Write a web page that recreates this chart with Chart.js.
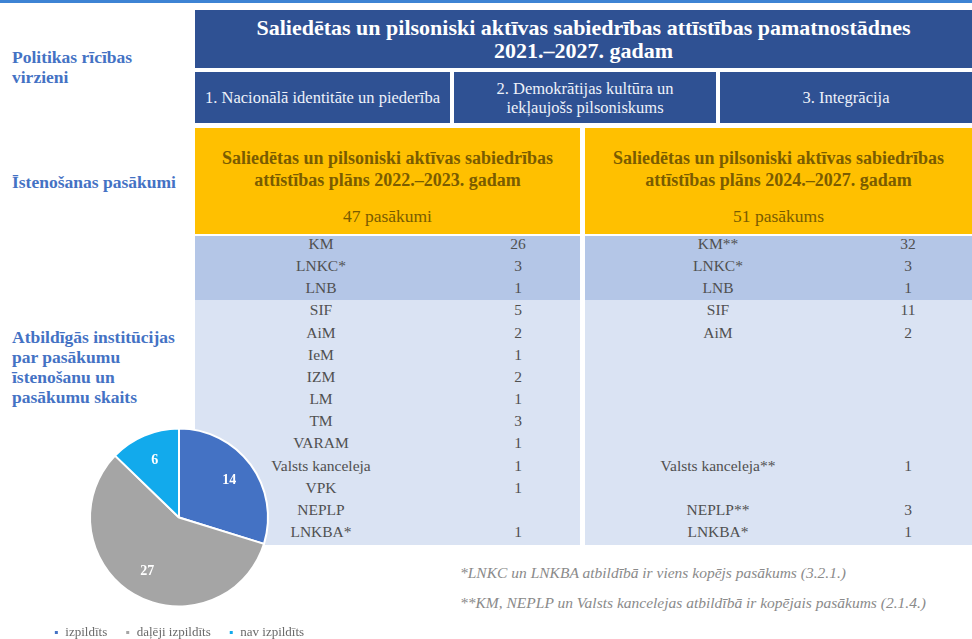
<!DOCTYPE html>
<html>
<head>
<meta charset="utf-8">
<script src="https://cdn.jsdelivr.net/npm/chart.js@4.4.1/dist/chart.umd.min.js"></script>
<style>
  html,body{margin:0;padding:0;background:#fff;}
  body{width:972px;height:639px;position:relative;overflow:hidden;font-family:'Liberation Serif';}
  .abs{position:absolute;}
  .topline{left:0;top:0;width:972px;height:3px;background:#3d83d4;}
  .hdr{background:#2f5193;color:#fff;display:flex;align-items:center;justify-content:center;text-align:center;}
  .h1{left:195px;top:10px;width:777px;height:58px;font-weight:bold;font-size:22px;line-height:23px;}
  .h2{top:72px;height:51px;font-size:16.5px;line-height:19px;color:#eef2fa;}
  .yel{background:#ffc000;color:#7a5c00;text-align:center;}
  .yel .t{font-weight:bold;font-size:18px;line-height:22px;margin-top:19px;}
  .yel .n{font-size:17.5px;line-height:20px;margin-top:15px;}
  .side{color:#4472c4;font-weight:bold;font-size:17.5px;line-height:20px;left:12px;white-space:nowrap;}
  .tbl{top:236px;height:309px;background:#dae3f3;}
  .band{position:absolute;left:0;top:0;width:100%;height:64px;background:#b4c6e7;}
  .row{position:absolute;left:0;width:100%;height:22px;font-size:15.5px;color:#505050;line-height:22px;}
  .row span{position:absolute;top:0;text-align:center;white-space:nowrap;}
  .foot{left:460px;font-style:italic;font-size:15.5px;color:#8a8a8a;line-height:20px;white-space:nowrap;}
  #pieBox{left:0;top:427px;width:358px;height:222px;z-index:5;}
</style>
</head>
<body>
<div class="abs topline"></div>

<div class="abs side" style="top:47px;">Politikas rīcības<br>virzieni</div>
<div class="abs side" style="top:172px;">Īstenošanas pasākumi</div>
<div class="abs side" style="top:327px;">Atbildīgās institūcijas<br>par pasākumu<br>īstenošanu un<br>pasākumu skaits</div>

<div class="abs hdr h1">Saliedētas un pilsoniski aktīvas sabiedrības attīstības pamatnostādnes<br>2021.–2027. gadam</div>
<div class="abs hdr h2" id="dir0" style="left:195px;width:255px;"></div>
<div class="abs hdr h2" id="dir1" style="left:454px;width:262px;"></div>
<div class="abs hdr h2" id="dir2" style="left:720px;width:252px;"></div>

<div class="abs yel" id="plan0" style="left:195px;top:128px;width:385px;height:106px;"></div>
<div class="abs yel" id="plan1" style="left:585px;top:128px;width:387px;height:106px;"></div>

<div class="abs tbl" id="tbl0" style="left:195px;width:385px;"><div class="band"></div></div>
<div class="abs tbl" id="tbl1" style="left:585px;width:387px;"><div class="band"></div></div>

<div class="abs foot" style="top:563px;">*LNKC un LNKBA atbildībā ir viens kopējs pasākums (3.2.1.)</div>
<div class="abs foot" style="top:593px;">**KM, NEPLP un Valsts kancelejas atbildībā ir kopējais pasākums (2.1.4.)</div>

<div class="abs" id="pieBox"><canvas id="pie"></canvas></div>

<script>
// ---- data ----
const directions = ["1. Nacionālā identitāte un piederība", "2. Demokrātijas kultūra un<br>iekļaujošs pilsoniskums", "3. Integrācija"];
const planTitles = ["Saliedētas un pilsoniski aktīvas sabiedrības<br>attīstības plāns 2022.–2023. gadam", "Saliedētas un pilsoniski aktīvas sabiedrības<br>attīstības plāns 2024.–2027. gadam"];
const planCounts = ["47 pasākumi", "51 pasākums"];
const institutions2223 = ["KM","LNKC*","LNB","SIF","AiM","IeM","IZM","LM","TM","VARAM","Valsts kanceleja","VPK","NEPLP","LNKBA*"];
const counts2223 = ["26","3","1","5","2","1","2","1","3","1","1","1","","1"];
const institutions2427 = ["KM**","LNKC*","LNB","SIF","AiM","","","","","","Valsts kanceleja**","","NEPLP**","LNKBA*"];
const counts2427 = ["32","3","1","11","2","","","","","","1","","3","1"];
const statusLabels = ["izpildīts", "daļēji izpildīts", "nav izpildīts"];
const statusValues = [14, 27, 6];
const statusColors = ["#4472c4", "#a5a5a5", "#12aaec"];

// ---- build html boxes ----
directions.forEach((d,i)=>{ document.getElementById('dir'+i).innerHTML = d; });
planTitles.forEach((t,i)=>{
  document.getElementById('plan'+i).innerHTML = '<div class="t">'+t+'</div><div class="n">'+planCounts[i]+'</div>';
});
function buildTable(id, names, vals, labX, numX){
  const el = document.getElementById(id);
  names.forEach((n,i)=>{
    const r = document.createElement('div');
    r.className = 'row';
    r.style.top = (-3 + i*22.15)+'px';
    r.innerHTML = '<span style="left:'+(labX-110)+'px;width:220px;">'+n+'</span>'+
                  '<span style="left:'+(numX-30)+'px;width:60px;">'+vals[i]+'</span>';
    el.appendChild(r);
  });
}
buildTable('tbl0', institutions2223, counts2223, 126, 323);
buildTable('tbl1', institutions2427, counts2427, 133, 323);

// ---- pie ----
Chart.defaults.font.family = "'Liberation Serif'";
const labelPlugin = {
  id:'sliceLabels',
  afterDatasetsDraw(chart){
    const ctx = chart.ctx;
    const meta = chart.getDatasetMeta(0);
    ctx.save();
    ctx.fillStyle = '#ffffff';
    ctx.font = "bold 14px 'Liberation Serif'";
    ctx.textAlign = 'center';
    ctx.textBaseline = 'middle';
    meta.data.forEach((arc,i)=>{
      const mid = (arc.startAngle + arc.endAngle)/2;
      const r = arc.outerRadius*0.7;
      ctx.fillText(String(chart.data.datasets[0].data[i]), arc.x + Math.cos(mid)*r, arc.y + Math.sin(mid)*r);
    });
    ctx.restore();
  }
};
new Chart(document.getElementById('pie'), {
  type:'pie',
  data:{ labels: statusLabels, datasets:[{ data: statusValues, backgroundColor: statusColors, borderColor:'#ffffff', borderWidth:2 }]},
  options:{
    responsive:true, maintainAspectRatio:false, animation:false,
    radius: 89,
    layout:{ padding:0 },
    plugins:{
      tooltip:{enabled:false},
      legend:{ position:'bottom', labels:{ usePointStyle:true, pointStyle:'rect', boxWidth:5, boxHeight:5, padding:18, color:'#6a6a6a', font:{ family:"'Liberation Serif'", size:13 } } }
    }
  },
  plugins:[labelPlugin]
});
</script>
</body>
</html>
